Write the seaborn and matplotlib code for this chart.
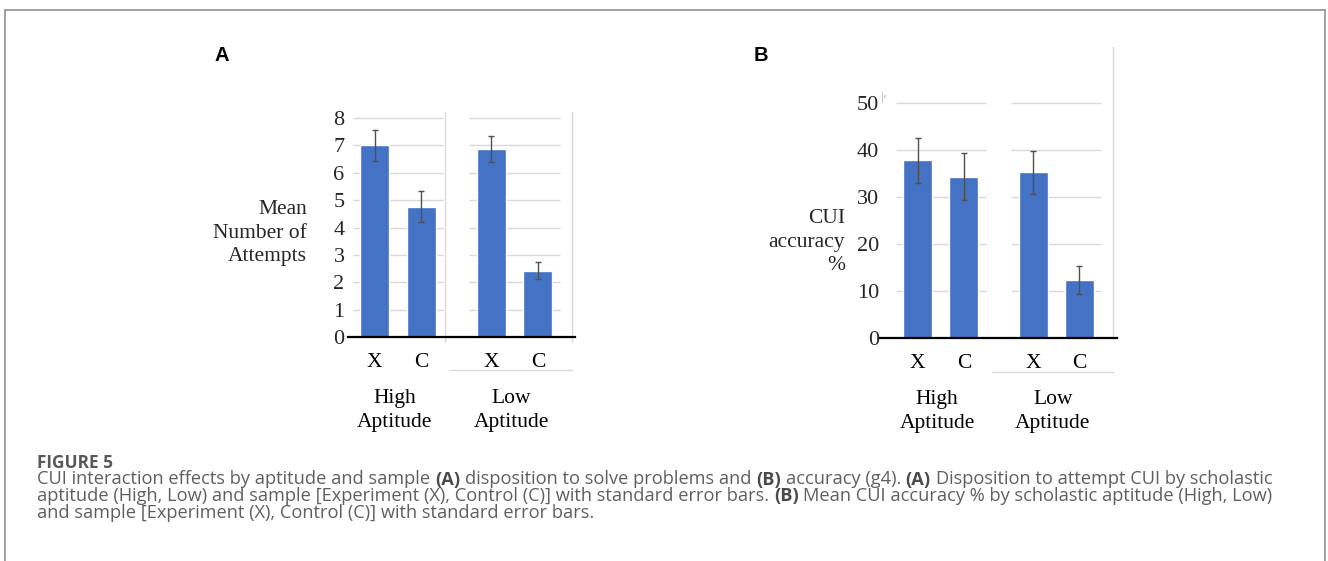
import numpy as np
import pandas as pd
import matplotlib
matplotlib.use("Agg")
import matplotlib.pyplot as plt
import matplotlib.transforms as mtransforms
from matplotlib.lines import Line2D
import seaborn as sns

# ---------------- data ----------------
groups = ["High\nAptitude", "Low\nAptitude"]
samples = ["X", "C"]
# order: (High,X), (High,C), (Low,X), (Low,C)
attempts_mean = [7.0, 4.77, 6.87, 2.42]
attempts_se = [0.55, 0.55, 0.47, 0.31]
accuracy_mean = [37.8, 34.3, 35.2, 12.4]
accuracy_se = [4.8, 5.0, 4.6, 3.0]
attempts_ticks = [0, 1, 2, 3, 4, 5, 6, 7, 8]
accuracy_ticks = [0, 10, 20, 30, 40, 50]

W, H = 1328, 561
sns.set_theme(style="white")
plt.rcParams["font.family"] = ["Liberation Serif", "DejaVu Serif"]

fig = plt.figure(figsize=(W / 100, H / 100), dpi=100)
fig.patch.set_facecolor("white")

BLUE = "#4472C4"
GRID = "#d9d9d9"
ERR = "#505050"
FS = 15.5
LS = 1.33


def make_df(means, ses):
    rows = []
    i = 0
    for g in groups:
        for s in samples:
            rows.append({"group": g, "sample": s, "value": means[i], "se": ses[i]})
            i += 1
    return pd.DataFrame(rows)


def ax_rect(left, right, top, bottom):
    return [left / W, 1 - bottom / H, (right - left) / W, (bottom - top) / H]


def panel(rect, df, ticks, xlim, ylim, sep_lines, right_line, under_line, ylabel, ylab_pos,
          xc_y, grp_y, tick_pad):
    ax = fig.add_axes(rect)
    sns.barplot(data=df, x="group", y="value", hue="sample", order=groups, hue_order=samples,
                palette=[BLUE, BLUE], width=0.8, gap=0.375, errorbar=None, legend=False,
                saturation=1, ax=ax, zorder=3)
    ax.set_xlim(*xlim)
    ax.set_ylim(*ylim)
    # grid segments per group
    for gi in range(len(groups)):
        ax.hlines([t for t in ticks if t > 0], gi - 0.39, gi + 0.39, color=GRID, lw=1.0, zorder=1)
    # error bars + X/C labels
    trans_b = mtransforms.blended_transform_factory(ax.transData, ax.transAxes)
    for p in ax.patches:
        h = p.get_height()
        cx = p.get_x() + p.get_width() / 2
        row = df.iloc[(df["value"] - h).abs().argmin()]
        ax.errorbar(cx, h, yerr=row["se"], fmt="none", ecolor=ERR, elinewidth=1.0,
                    capsize=2.2, capthick=1.0, zorder=4)
        ax.text(cx, xc_y, row["sample"], transform=trans_b, ha="center", va="center",
                fontsize=FS, color="black")
    for gi, g in enumerate(groups):
        ax.text(gi - 0.03, grp_y, g, transform=trans_b, ha="center", va="center",
                fontsize=FS, color="black", linespacing=LS)
    for xs, y0 in sep_lines:
        ax.axvline(xs, ymin=y0, ymax=1, color=GRID, lw=1.0, clip_on=False, zorder=1)
    ax.axvline(right_line[0], ymin=right_line[1], ymax=1, color=GRID, lw=1.0, clip_on=False, zorder=1)
    ux0, ux1, uy = under_line
    ax.plot([ux0, ux1], [uy, uy], transform=trans_b, color=GRID, lw=1.0, clip_on=False)
    for s in ["top", "right", "left"]:
        ax.spines[s].set_visible(False)
    ax.spines["bottom"].set_color("black")
    ax.spines["bottom"].set_linewidth(1.6)
    ax.spines["bottom"].set_zorder(5)
    ax.set_yticks(ticks)
    ax.set_yticklabels([str(t) for t in ticks], fontsize=FS + 0.5)
    ax.tick_params(axis="y", length=0, pad=tick_pad)
    ax.set_xticks([])
    ax.set_xlabel("")
    ax.set_ylabel("")
    ax.text(ylab_pos[0], ylab_pos[1], ylabel, transform=ax.transAxes, ha="right", va="center",
            multialignment="right", fontsize=FS, linespacing=LS)
    ax.grid(False)
    return ax


dfA = make_df(attempts_mean, attempts_se)
dfB = make_df(accuracy_mean, accuracy_se)

axA = panel(ax_rect(348, 575, 112, 337.3), dfA, attempts_ticks, (-0.429, 1.519),
            (0, 8.22), [(0.403, -0.022)], (1.494, -0.022), (0.446, 1.494, -0.145),
            "Mean\nNumber of\nAttempts", (-0.181, 0.462), -0.114, -0.325, 2.5)

axB = panel(ax_rect(880, 1117, 47, 338.3), dfB, accuracy_ticks, (-0.526, 1.526),
            (0, 61.8), [], (1.491, 0.0), (0.444, 1.491, -0.116),
            "CUI\naccuracy\n%", (-0.148, 0.33), -0.085, -0.252, 0.5)
# small artifact mark near the top tick of panel B
tB = mtransforms.blended_transform_factory(axB.transData, axB.transAxes)
axB.plot([-0.509, -0.509], [0.811, 0.846], transform=tB, color="#c8c8c8", lw=0.8, clip_on=False)
axB.text(-0.49, 0.83, "ε", transform=tB, fontsize=4, color="#888888", ha="left", va="center")

# panel letters
for lab, xp in [("A", 215), ("B", 754)]:
    fig.text(xp / W, 1 - 46 / H, lab, fontsize=14.5, fontweight="bold",
             family=["Liberation Sans", "DejaVu Sans"], ha="left", va="top", color="black")

# frame
FR = "#8f8f8f"
fig.add_artist(Line2D([5 / W, 1325 / W], [1 - 10 / H, 1 - 10 / H], color=FR, lw=1.2))
fig.add_artist(Line2D([5 / W, 5 / W], [1 - 10 / H, 0], color=FR, lw=1.2))
fig.add_artist(Line2D([1325 / W, 1325 / W], [1 - 10 / H, 0], color=FR, lw=1.2))

# caption
CAP_FAM = ["Open Sans", "DejaVu Sans"]
CAP_COL = "#5f5f5f"
BOLD_COL = "#4a4a4a"
cap_lines = [
    [("CUI interaction effects by aptitude and sample", False), ("(A)", True),
     ("disposition to solve problems and", False), ("(B)", True),
     ("accuracy (g4).", False), ("(A)", True), ("Disposition to attempt CUI by scholastic", False)],
    [("aptitude (High, Low) and sample [Experiment (X), Control (C)] with standard error bars.", False),
     ("(B)", True), ("Mean CUI accuracy % by scholastic aptitude (High, Low)", False)],
    [("and sample [Experiment (X), Control (C)] with standard error bars.", False)],
]
renderer = fig.canvas.get_renderer()


def text_w(s, size, bold):
    t = fig.text(0, 0, s, fontsize=size, family=CAP_FAM, fontweight="bold" if bold else "normal")
    w = t.get_window_extent(renderer).width
    t.remove()
    return w


def line_width(runs, size):
    sp = text_w("x x", size, False) - text_w("xx", size, False)
    return sum(text_w(s, size, b) for s, b in runs) + sp * (len(runs) - 1), sp


base = 10.0
w0, _ = line_width(cap_lines[0], base)
cap_size = base * 1235.0 / w0

x_start = 37
fig.text(x_start / W, 1 - 468 / H, "FIGURE 5", fontsize=cap_size * 0.95, family=CAP_FAM,
         fontweight="bold", color="#595959", ha="left", va="baseline")
for li, runs in enumerate(cap_lines):
    y = 1 - (484.5 + 16.5 * li) / H
    x = x_start
    _, sp = line_width(runs, cap_size)
    for s, b in runs:
        t = fig.text(x / W, y, s, fontsize=cap_size, family=CAP_FAM,
                     fontweight="bold" if b else "normal", color=BOLD_COL if b else CAP_COL,
                     ha="left", va="baseline")
        x += t.get_window_extent(renderer).width + sp

fig.savefig("out.png", dpi=100, facecolor="white")
